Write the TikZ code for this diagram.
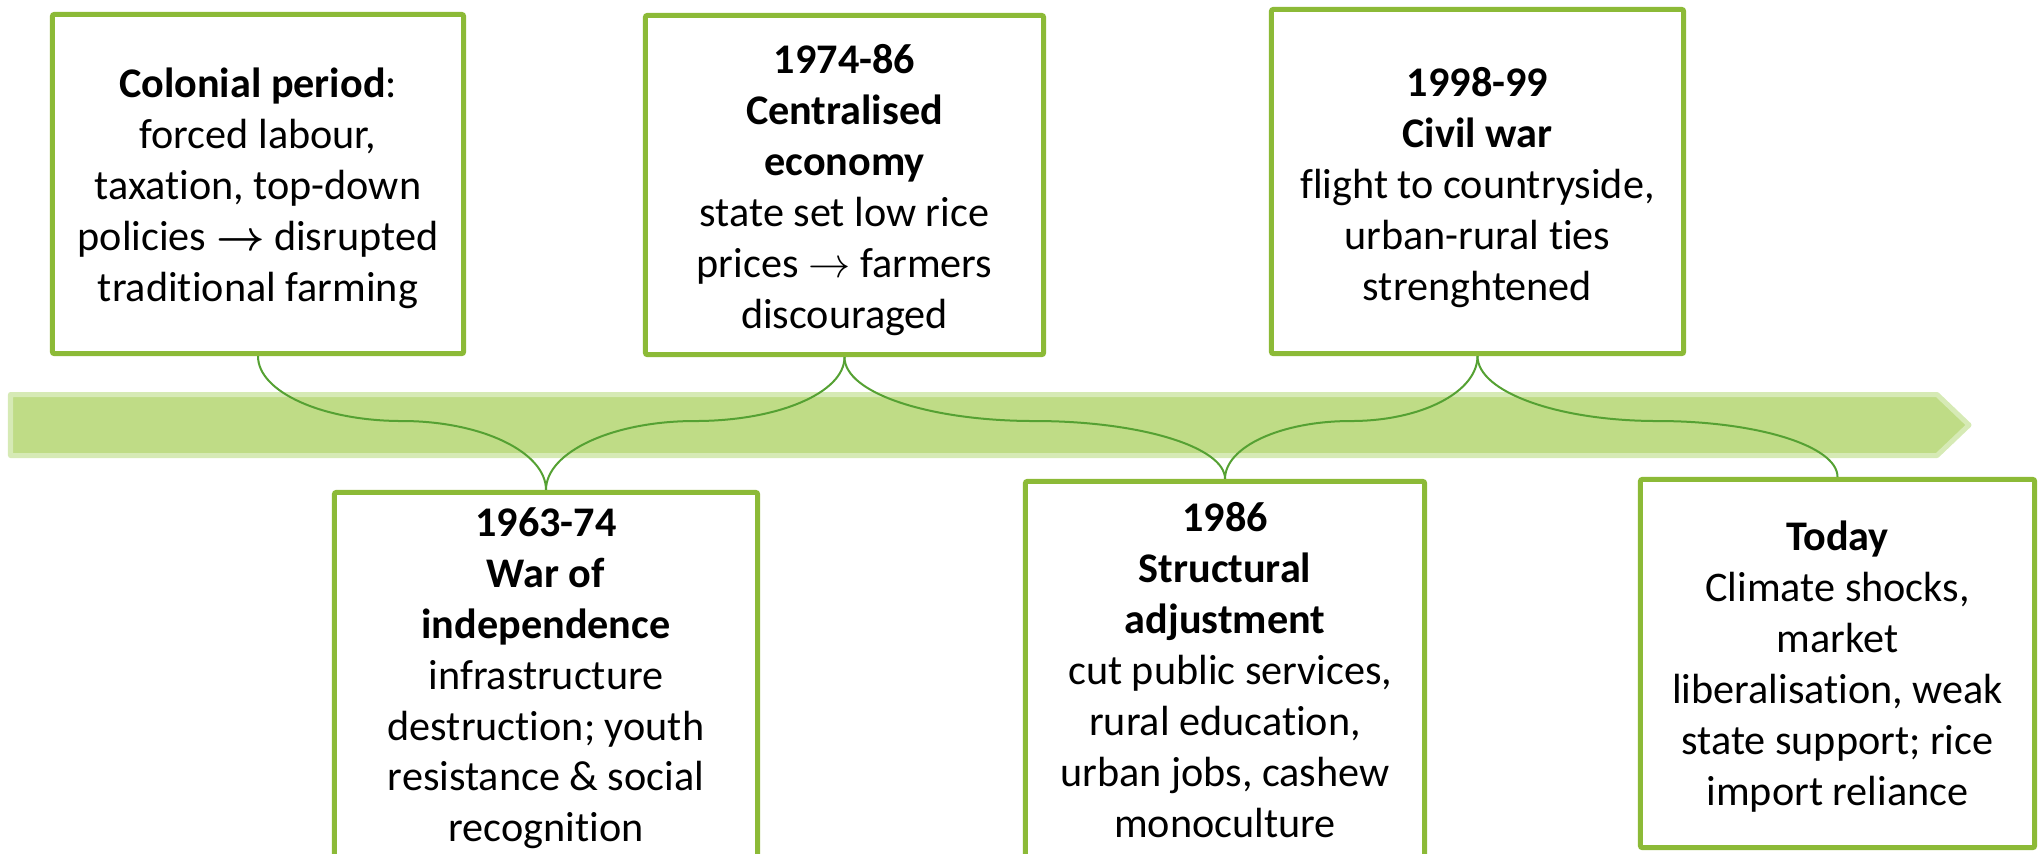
\documentclass[tikz,border=0pt]{standalone}
\usepackage{amsmath}
\usepackage{fontspec}
\setmainfont{Carlito}[Ligatures=NoCommon]
\definecolor{cardgreen}{HTML}{8CBA37}
\definecolor{bandfill}{HTML}{BFDC86}
\definecolor{bandedge}{HTML}{D6EAB5}
\definecolor{linkgreen}{HTML}{55A133}
\tikzset{
  card/.style={draw=cardgreen, fill=white, line width=0.05cm, rounded corners=0.02cm, inner sep=0pt},
  cardtext/.style={anchor=north, align=center, inner sep=0pt, font=\fontsize{12}{14.5}\selectfont},
  link/.style={draw=linkgreen, line width=0.02cm}
}
\begin{document}
\begin{tikzpicture}[x=0.01cm, y=-0.01cm]
	\useasboundingbox (0,0) rectangle (2042,853);
	% timeline band
	\draw[bandedge, fill=bandfill, line width=0.05cm, line join=round]
		(10.5,394.5) -- (1937,394.5) -- (1969,425) -- (1937,455.5) -- (10.5,455.5) -- cycle;
	% frames, above the band
	\node[card, minimum width=4.11cm, minimum height=3.39cm] (colonial) at (258,184) {};
	\node[card, minimum width=3.98cm, minimum height=3.39cm] (central) at (844.5,185) {};
	\node[card, minimum width=4.12cm, minimum height=3.44cm] (civilwar) at (1477.5,181.5) {};
	% frames, below the band
	\node[card, minimum width=4.23cm, minimum height=3.80cm] (independence) at (546,682.5) {};
	\node[card, minimum width=3.99cm, minimum height=3.90cm] (adjustment) at (1225,676.5) {};
	\node[card, minimum width=3.94cm, minimum height=3.68cm] (today) at (1837.5,663.5) {};
	% texts
	\node[cardtext] (colonialtext) at (258,67)
		{\textbf{Colonial period}:\\forced labour,\\taxation, top-down\\policies $\boldsymbol{\rightarrow}$ disrupted\\traditional farming};
	\node[cardtext] (centraltext) at (844.5,44)
		{\textbf{1974-86}\\\textbf{Centralised}\\\textbf{economy}\\state set low rice\\prices $\rightarrow$ farmers\\discouraged};
	\node[cardtext] (civilwartext) at (1477.5,66.5)
		{\textbf{1998-99}\\\textbf{Civil war}\\flight to countryside,\\urban-rural ties\\strenghtened};
	\node[cardtext] (independencetext) at (546,506.5)
		{\textbf{1963-74}\\\textbf{War of}\\\textbf{independence}\\infrastructure\\destruction; youth\\resistance \& social\\recognition};
	\node[cardtext] (adjustmenttext) at (1225,501.5)
		{\textbf{1986}\\\textbf{Structural}\\\textbf{adjustment}\\\hspace{0.25em}cut public services,\\rural education,\\urban jobs, cashew\\monoculture};
	\node[cardtext] (todaytext) at (1837.5,520)
		{\textbf{Today}\\Climate shocks,\\market\\liberalisation, weak\\state support; rice\\import reliance};
	% joints on the band
	\coordinate (m1) at (402,421);
	\coordinate (m2) at (695,421);
	\coordinate (m3) at (1034.5,421);
	\coordinate (m4) at (1351,421);
	\coordinate (m5) at (1657.5,421);
	% links between the events
	\draw[link] (colonial.south) to[out=-90, in=180, out distance=0.36cm, in distance=0.79cm] (m1)
		to[out=0, in=90, out distance=0.79cm, in distance=0.38cm] (independence.north);
	\draw[link] (independence.north) to[out=90, in=180, out distance=0.38cm, in distance=0.82cm] (m2)
		to[out=0, in=-90, out distance=0.82cm, in distance=0.36cm] (central.south);
	\draw[link] (central.south) to[out=-90, in=180, out distance=0.36cm, in distance=1.05cm] (m3)
		to[out=0, in=90, out distance=1.05cm, in distance=0.32cm] (adjustment.north);
	\draw[link] (adjustment.north) to[out=90, in=180, out distance=0.32cm, in distance=0.7cm] (m4)
		to[out=0, in=-90, out distance=0.7cm, in distance=0.36cm] (civilwar.south);
	\draw[link] (civilwar.south) to[out=-90, in=180, out distance=0.36cm, in distance=0.99cm] (m5)
		to[out=0, in=90, out distance=0.99cm, in distance=0.31cm] (today.north);
\end{tikzpicture}
\end{document}
